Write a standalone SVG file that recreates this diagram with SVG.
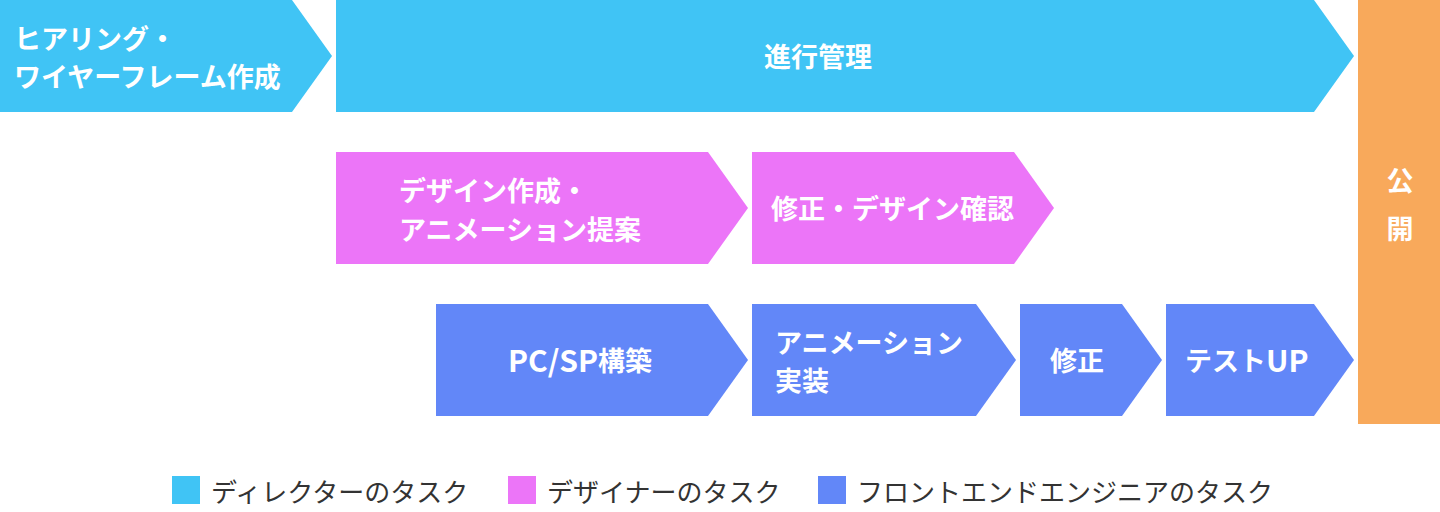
<svg xmlns="http://www.w3.org/2000/svg" width="1440" height="512" viewBox="0 0 1440 512">
<style>
.dir{fill:#40C4F5}
.des{fill:#EC75F8}
.fe{fill:#6287F8}
.pub{fill:#F8A95B}
.t{font-family:"Noto Sans CJK JP","Noto Sans",sans-serif;font-size:27px;font-weight:700;fill:#FFFFFF;dominant-baseline:central}
.lg{font-family:"Noto Sans CJK JP","Noto Sans",sans-serif;font-size:26px;font-weight:400;fill:#333333;dominant-baseline:central}
</style>
<rect width="1440" height="512" fill="#FFFFFF"/>
<g id="hearing">
<polygon class="dir" points="0,0 292,0 332,56 292,112 0,112"/>
<text class="t" x="14" y="37">ヒアリング・</text>
<text class="t" x="14" y="75">ワイヤーフレーム作成</text>
</g>
<g id="progress">
<polygon class="dir" points="336,0 1314,0 1354,56 1314,112 336,112"/>
<text class="t" x="818" y="55" text-anchor="middle">進行管理</text>
</g>
<g id="design">
<polygon class="des" points="336,152 708,152 748,208 708,264 336,264"/>
<text class="t" x="399" y="189">デザイン作成・</text>
<text class="t" x="399" y="228">アニメーション提案</text>
</g>
<g id="design-fix">
<polygon class="des" points="752,152 1014,152 1054,208 1014,264 752,264"/>
<text class="t" x="771" y="207">修正・デザイン確認</text>
</g>
<g id="build">
<polygon class="fe" points="436,304 708,304 748,360 708,416 436,416"/>
<text class="t" x="580" y="359" text-anchor="middle"><tspan font-size="30">PC/SP</tspan>構築</text>
</g>
<g id="anim">
<polygon class="fe" points="752,304 976,304 1016,360 976,416 752,416"/>
<text class="t" x="775" y="341">アニメーション</text>
<text class="t" x="775" y="379">実装</text>
</g>
<g id="fix">
<polygon class="fe" points="1020,304 1122,304 1162,360 1122,416 1020,416"/>
<text class="t" x="1050" y="359">修正</text>
</g>
<g id="test">
<polygon class="fe" points="1166,304 1314,304 1354,360 1314,416 1166,416"/>
<text class="t" x="1185" y="359">テスト<tspan font-size="30">UP</tspan></text>
</g>
<g id="publish">
<rect class="pub" x="1358" y="0" width="82" height="424"/>
<text class="t" x="1400" y="179" text-anchor="middle">公</text>
<text class="t" x="1400" y="227" text-anchor="middle">開</text>
</g>
<g id="connectors"></g>
<g id="legend">
<rect class="dir" x="172" y="476" width="28" height="28"/>
<text class="lg" x="211" y="490">ディレクターのタスク</text>
<rect class="des" x="508" y="476" width="28" height="28"/>
<text class="lg" x="547" y="490">デザイナーのタスク</text>
<rect class="fe" x="818" y="476" width="28" height="28"/>
<text class="lg" x="857" y="490">フロントエンドエンジニアのタスク</text>
</g>
</svg>
